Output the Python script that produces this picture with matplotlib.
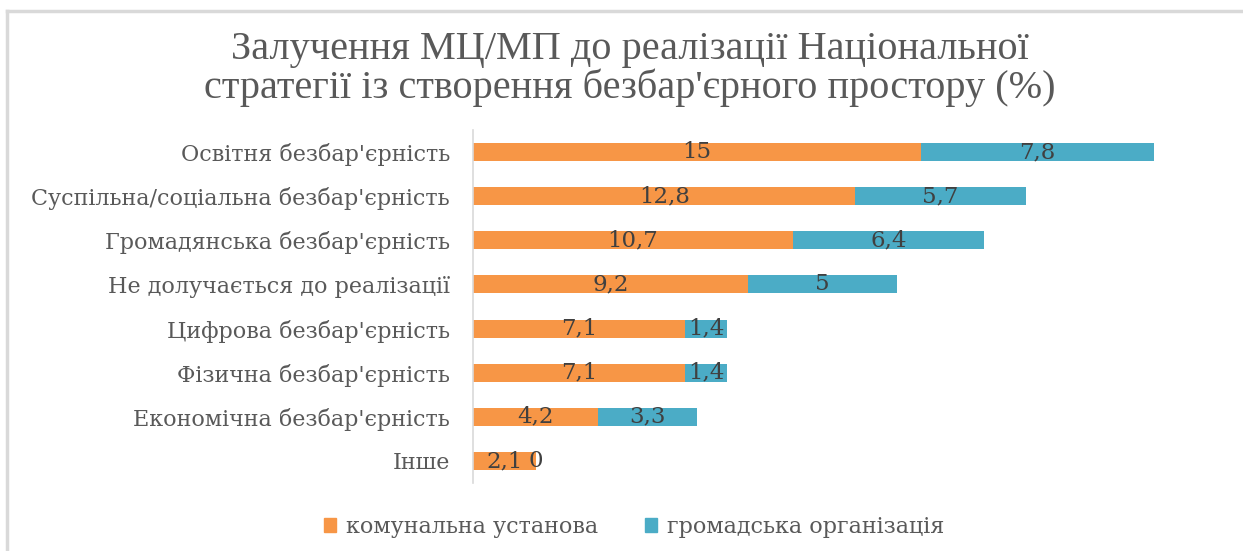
import matplotlib
matplotlib.use("Agg")
import matplotlib.pyplot as plt
from matplotlib.patches import Rectangle
from matplotlib.lines import Line2D

categories = [
    "Освітня безбар'єрність",
    "Суспільна/соціальна безбар'єрність",
    "Громадянська безбар'єрність",
    "Не долучається до реалізації",
    "Цифрова безбар'єрність",
    "Фізична безбар'єрність",
    "Економічна безбар'єрність",
    "Інше",
]
communal = [15, 12.8, 10.7, 9.2, 7.1, 7.1, 4.2, 2.1]
ngo = [7.8, 5.7, 6.4, 5, 1.4, 1.4, 3.3, 0]
series_names = ["комунальна установа", "громадська організація"]
title = "Залучення МЦ/МП до реалізації Національної\nстратегії із створення безбар'єрного простору (%)"

c_orange = "#F79646"
c_teal = "#4BACC6"
txt_gray = "#595959"
lbl_dark = "#404040"

W, H = 1243, 551
fig = plt.figure(figsize=(W / 100, H / 100), dpi=100)

ax = fig.add_axes([473 / W, (H - 483) / H, 747 / W, 353 / H])
y = list(range(len(categories)))
b1 = ax.barh(y, communal, height=0.41, color=c_orange)
b2 = ax.barh(y, ngo, left=communal, height=0.41, color=c_teal)

def fmt(v):
    s = f"{v:g}"
    return s.replace(".", ",")

for vals, lefts in [(communal, [0] * len(communal)), (ngo, communal)]:
    for yi, v, l in zip(y, vals, lefts):
        ax.text(l + v / 2, yi, fmt(v), ha="center", va="center",
                fontsize=16.5, color=lbl_dark, family="DejaVu Serif")

ax.set_xlim(0, 25)
ax.set_ylim(len(categories) - 0.5, -0.5)
ax.set_yticks(y)
ax.set_yticklabels(categories, fontsize=16, color=txt_gray, family="DejaVu Serif")
ax.tick_params(axis="y", length=0, pad=16.5)
ax.set_xticks([])
for s in ["top", "right", "bottom"]:
    ax.spines[s].set_visible(False)
ax.spines["left"].set_color("#D9D9D9")
ax.spines["left"].set_linewidth(1.2)

fig.text(630 / W, 1 - 69 / H, title, ha="center", va="center", fontsize=29,
         color=txt_gray, family="Liberation Serif", linespacing=1.05)

# legend
handles = [Rectangle((0, 0), 1, 1, color=c_orange), Rectangle((0, 0), 1, 1, color=c_teal)]
leg = fig.legend(handles, series_names, loc="center", bbox_to_anchor=(634 / W, 1 - 527 / H),
                 ncol=2, frameon=False, handlelength=0.55, handleheight=0.55,
                 handletextpad=0.45, columnspacing=2.1,
                 prop={"family": "DejaVu Serif", "size": 16})
for t in leg.get_texts():
    t.set_color(txt_gray)

# outer border (top and left)
fig.add_artist(Line2D([7 / W, 7 / W], [0, 1 - 11 / H], transform=fig.transFigure,
                      color="#D9D9D9", linewidth=2.5))
fig.add_artist(Line2D([7 / W, 1], [1 - 11 / H, 1 - 11 / H], transform=fig.transFigure,
                      color="#D9D9D9", linewidth=2.5))

fig.savefig("out.png", dpi=100)
